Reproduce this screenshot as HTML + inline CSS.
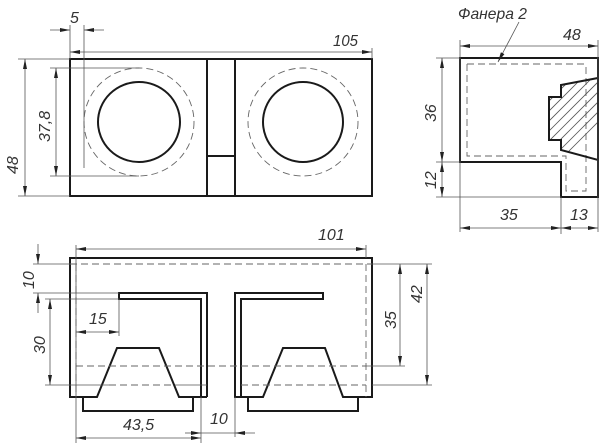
<!DOCTYPE html>
<html><head><meta charset="utf-8"><style>
html,body{margin:0;padding:0;background:#fff;}
svg{display:block;}
text{font-family:"Liberation Sans",sans-serif;font-style:italic;font-size:16px;fill:#333;}
.k{stroke:#1a1a1a;stroke-width:2;fill:none;stroke-linejoin:miter;}
.t{stroke:#555;stroke-width:0.8;fill:none;}
.d{stroke:#666;stroke-width:0.9;fill:none;stroke-dasharray:7,4;}
</style></head><body>
<svg width="600" height="447" viewBox="0 0 600 447" xmlns="http://www.w3.org/2000/svg">
<defs>
<marker id="a" viewBox="0 0 10 4" refX="10" refY="2" markerWidth="10" markerHeight="4" markerUnits="userSpaceOnUse" orient="auto-start-reverse"><path d="M0,0 L10,2 L0,4z" fill="#222"/></marker>
<clipPath id="hc"><path d="M561,85 L598,78 L598,160 L561,150 L561,140 L549,140 L549,97 L561,97z"/></clipPath>
</defs>

<!-- ===== Front view ===== -->
<rect class="k" x="70" y="59" width="302" height="137"/>
<line class="k" x1="207" y1="59" x2="207" y2="196"/>
<line class="k" x1="235" y1="59" x2="235" y2="196"/>
<line class="k" x1="207" y1="156" x2="235" y2="156"/>
<ellipse class="k" cx="139" cy="122" rx="41" ry="40"/>
<ellipse class="k" cx="303" cy="122" rx="40" ry="40"/>
<ellipse class="d" cx="139" cy="122" rx="55" ry="54" stroke-dasharray="8,4"/>
<ellipse class="d" cx="303" cy="122" rx="55" ry="54" stroke-dasharray="8,4"/>
<line class="t" x1="70" y1="25" x2="70" y2="59"/>
<line class="t" x1="84" y1="25" x2="84" y2="168"/>
<line class="t" x1="50" y1="30" x2="70" y2="30" marker-end="url(#a)"/>
<line class="t" x1="104" y1="30" x2="84" y2="30" marker-end="url(#a)"/>
<text x="70" y="23">5</text>
<line class="t" x1="372" y1="48" x2="372" y2="59"/>
<line class="t" x1="70" y1="52" x2="372" y2="52" marker-start="url(#a)" marker-end="url(#a)"/>
<text x="333" y="46" textLength="25" lengthAdjust="spacingAndGlyphs">105</text>
<line class="t" x1="18" y1="59" x2="70" y2="59"/>
<line class="t" x1="18" y1="196" x2="70" y2="196"/>
<line class="t" x1="25" y1="59" x2="25" y2="196" marker-start="url(#a)" marker-end="url(#a)"/>
<text transform="translate(18,174) rotate(-90)">48</text>
<line class="t" x1="50" y1="68" x2="139" y2="68"/>
<line class="t" x1="50" y1="176" x2="139" y2="176"/>
<line class="t" x1="56" y1="68" x2="56" y2="176" marker-start="url(#a)" marker-end="url(#a)"/>
<text transform="translate(50,142) rotate(-90)">37,8</text>

<!-- ===== Side view ===== -->
<path class="k" d="M460,58 L598,58 L598,197 L561,197 L561,162 L460,162z"/>
<path class="d" d="M467,64 L586,64 M467,64 L467,156 L566,156 L566,191 L586,191 L586,64"/>
<g clip-path="url(#hc)">
<g class="t" stroke-width="0.7">
<line x1="520" y1="170" x2="620" y2="70"/><line x1="530" y1="170" x2="630" y2="70"/>
<line x1="510" y1="170" x2="610" y2="70"/><line x1="500" y1="170" x2="600" y2="70"/>
<line x1="490" y1="170" x2="590" y2="70"/><line x1="480" y1="170" x2="580" y2="70"/>
<line x1="470" y1="170" x2="570" y2="70"/><line x1="540" y1="170" x2="640" y2="70"/>
<line x1="550" y1="170" x2="650" y2="70"/><line x1="460" y1="170" x2="560" y2="70"/>
<line x1="450" y1="170" x2="550" y2="70"/>
</g></g>
<path class="k" d="M561,85 L598,78 L598,160 L561,150 L561,140 L549,140 L549,97 L561,97z"/>
<text x="458" y="19" textLength="69" lengthAdjust="spacingAndGlyphs">Фанера 2</text>
<line class="t" x1="519" y1="22" x2="498" y2="62" marker-end="url(#a)"/>
<line class="t" x1="460" y1="40" x2="460" y2="232"/>
<line class="t" x1="598" y1="40" x2="598" y2="232"/>
<line class="t" x1="561" y1="197" x2="561" y2="234"/>
<line class="t" x1="460" y1="46" x2="598" y2="46" marker-start="url(#a)" marker-end="url(#a)"/>
<text x="563" y="40">48</text>
<line class="t" x1="436" y1="58" x2="460" y2="58"/>
<line class="t" x1="436" y1="162" x2="460" y2="162"/>
<line class="t" x1="436" y1="197" x2="561" y2="197"/>
<line class="t" x1="442" y1="58" x2="442" y2="162" marker-start="url(#a)" marker-end="url(#a)"/>
<line class="t" x1="442" y1="162" x2="442" y2="197" marker-start="url(#a)" marker-end="url(#a)"/>
<text transform="translate(436,122) rotate(-90)">36</text>
<text transform="translate(436,189) rotate(-90)">12</text>
<line class="t" x1="460" y1="228" x2="561" y2="228" marker-start="url(#a)" marker-end="url(#a)"/>
<line class="t" x1="561" y1="228" x2="598" y2="228" marker-start="url(#a)" marker-end="url(#a)"/>
<text x="500" y="220">35</text>
<text x="570" y="220">13</text>

<!-- ===== Bottom view ===== -->
<path class="k" d="M207,397 L207,293 L119,293 L119,299 L201,299 L201,397 M207,397 L179,397 L159,348 L117,348 L97,397 L70,397 L70,258 L372,258 L372,397 L343,397 L325,348 L283,348 L263,397 L235,397 L235,293 L323,293 L323,299 L241,299 L241,397"/>
<path class="k" d="M83,397 L83,411 L193,411 L193,397 M248,397 L248,411 L358,411 L358,397"/>
<line class="d" x1="70" y1="264" x2="372" y2="264"/>
<line class="d" x1="76" y1="264" x2="76" y2="397"/>
<line class="d" x1="366" y1="264" x2="366" y2="397"/>
<line class="d" x1="76" y1="366" x2="366" y2="366"/>
<line class="d" x1="241" y1="385" x2="366" y2="385"/>
<line class="t" x1="45" y1="385" x2="109" y2="385"/>
<line class="t" x1="175" y1="385" x2="207" y2="385"/>
<line class="d" x1="109" y1="385" x2="175" y2="385"/>
<line class="t" x1="76" y1="245" x2="76" y2="443"/>
<line class="t" x1="366" y1="245" x2="366" y2="258"/>
<line class="t" x1="76" y1="249" x2="366" y2="249" marker-start="url(#a)" marker-end="url(#a)"/>
<text x="318" y="240">101</text>
<line class="t" x1="33" y1="264" x2="70" y2="264"/>
<line class="t" x1="372" y1="264" x2="432" y2="264"/>
<line class="t" x1="33" y1="293" x2="119" y2="293"/>
<line class="t" x1="45" y1="299" x2="119" y2="299"/>
<line class="t" x1="38" y1="244" x2="38" y2="264" marker-end="url(#a)"/>
<line class="t" x1="38" y1="313" x2="38" y2="293" marker-end="url(#a)"/>
<text transform="translate(34,289) rotate(-90)">10</text>
<line class="t" x1="50" y1="299" x2="50" y2="385" marker-start="url(#a)" marker-end="url(#a)"/>
<text transform="translate(45,354) rotate(-90)">30</text>
<line class="t" x1="119" y1="299" x2="119" y2="336"/>
<line class="t" x1="76" y1="332" x2="119" y2="332" marker-start="url(#a)" marker-end="url(#a)"/>
<text x="89" y="324">15</text>
<line class="t" x1="366" y1="366" x2="405" y2="366"/>
<line class="t" x1="372" y1="385" x2="432" y2="385"/>
<line class="t" x1="400" y1="264" x2="400" y2="366" marker-start="url(#a)" marker-end="url(#a)"/>
<line class="t" x1="427" y1="264" x2="427" y2="385" marker-start="url(#a)" marker-end="url(#a)"/>
<text transform="translate(396,329) rotate(-90)">35</text>
<text transform="translate(422,303) rotate(-90)">42</text>
<line class="t" x1="201" y1="397" x2="201" y2="443"/>
<line class="t" x1="235" y1="397" x2="235" y2="437"/>
<line class="t" x1="76" y1="438" x2="201" y2="438" marker-start="url(#a)" marker-end="url(#a)"/>
<text x="123" y="430">43,5</text>
<line class="t" x1="185" y1="433" x2="201" y2="433" marker-end="url(#a)"/>
<line class="t" x1="201" y1="433" x2="235" y2="433"/>
<line class="t" x1="255" y1="433" x2="235" y2="433" marker-end="url(#a)"/>
<text x="210" y="424">10</text>
</svg>
</body></html>
